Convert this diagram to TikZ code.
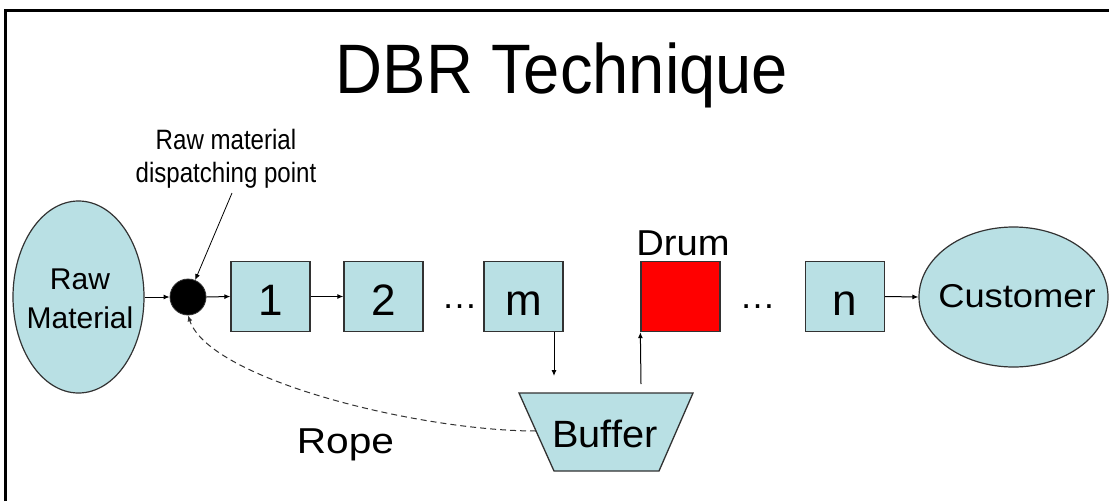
\documentclass[tikz,border=0pt]{standalone}
\usepackage{fontspec}
\setmainfont{Liberation Sans}
\usetikzlibrary{arrows.meta,shapes.geometric}
\definecolor{boxblue}{RGB}{185,224,228}
\definecolor{edgegray}{RGB}{50,50,50}
\definecolor{drumred}{RGB}{255,0,0}
\tikzset{
  x=1pt, y=-1pt,
  stagebox/.style={draw=edgegray, line width=1.3pt, fill=boxblue, minimum width=79pt, minimum height=70pt, inner sep=0pt},
  endpoint/.style={draw=edgegray, line width=1.2pt, fill=boxblue, ellipse, inner sep=0pt},
  flow/.style={-{Latex[length=6pt,width=5pt]}, line width=1pt, black},
  ropeline/.style={-{Latex[length=6pt,width=5pt]}, line width=1pt, edgegray, dash pattern=on 6pt off 4pt},
  lbl/.style={anchor=base, inner sep=0pt},
}
\begin{document}
\begin{tikzpicture}
\useasboundingbox (0,0) rectangle (1109,501);
\fill[white] (0,0) rectangle (1109,501);
% slide frame: top and left rules
\draw[line width=3pt] (5.5,501) -- (5.5,10) -- (1109,10);

% title
\node[lbl, font=\fontsize{70}{80}\selectfont, xscale=0.93] (title) at (562,93) {DBR Technique};

% source and sink
\node[endpoint, minimum width=131pt, minimum height=192pt] (raw) at (78.5,297) {};
\node[lbl, font=\fontsize{30}{39}\selectfont, align=center] (rawtxt) at (80,328) {Raw\\Material};
\node[endpoint, minimum width=189pt, minimum height=140pt] (cust) at (1013.5,297) {};
\node[lbl, font=\fontsize{33}{40}\selectfont, xscale=1.1] (custtxt) at (1017,307.5) {Customer};

% release point
\node[circle, fill=black, draw=edgegray, line width=0.8pt, minimum size=36pt, inner sep=0pt] (dot) at (188,297) {};

% process steps
\node[stagebox] (s1) at (270.5,296.5) {};
\node[stagebox] (s2) at (383.5,296.5) {};
\node[stagebox] (sm) at (523.5,296.5) {};
\node[stagebox, fill=drumred] (drum) at (680.5,296.5) {};
\node[stagebox] (sn) at (845,296.5) {};
\node[lbl, font=\fontsize{44}{50}\selectfont] (t1) at (270.5,315) {1};
\node[lbl, font=\fontsize{44}{50}\selectfont] (t2) at (383.5,315) {2};
\node[lbl, font=\fontsize{44}{50}\selectfont] (tm) at (523.5,315) {m};
\node[lbl, font=\fontsize{44}{50}\selectfont] (tn) at (845,315) {n};
\node[lbl, font=\fontsize{36}{40}\selectfont] (gap1) at (459.5,308) {…};
\node[lbl, font=\fontsize{36}{40}\selectfont] (gap2) at (757.5,308) {…};
\node[lbl, font=\fontsize{36}{40}\selectfont, xscale=1.06] (drumtxt) at (683,255) {Drum};

% buffer in front of the drum
\filldraw[fill=boxblue, draw=edgegray, line width=1.3pt]
  (519,393) -- (693,393) -- (659,471) -- (554,471) -- cycle;
\node[lbl, font=\fontsize{38}{40}\selectfont, xscale=1.045] (buf) at (605,447) {Buffer};
\coordinate (bufleft) at (536,431);
\coordinate (bufin) at (554,376);
\coordinate (bufout) at (641,384);

% rope label and annotation
\node[lbl, font=\fontsize{36}{40}\selectfont, xscale=1.13] (rope) at (345.5,453) {Rope};
\node[lbl, font=\fontsize{28}{33}\selectfont, align=center, xscale=0.86] (note) at (226,182) {Raw material\\dispatching point};
\coordinate (notefoot) at (232,193);

% material flow
\draw[flow] (raw.east) -- (dot.west);
\draw[flow] (dot.east) -- (s1.west);
\draw[flow] (s1.east) -- (s2.west);
\draw[flow] (sn.east) -- (cust.west);
\draw[flow] (sm.south -| bufin) -- (bufin);
\draw[flow] (bufout) -- (drum.south west);
\draw[flow, line width=0.8pt] (notefoot) -- (dot);

% rope back to the release point
\draw[ropeline] (bufleft) .. controls (420,431) and (210,380) .. (dot.south);
\end{tikzpicture}
\end{document}
